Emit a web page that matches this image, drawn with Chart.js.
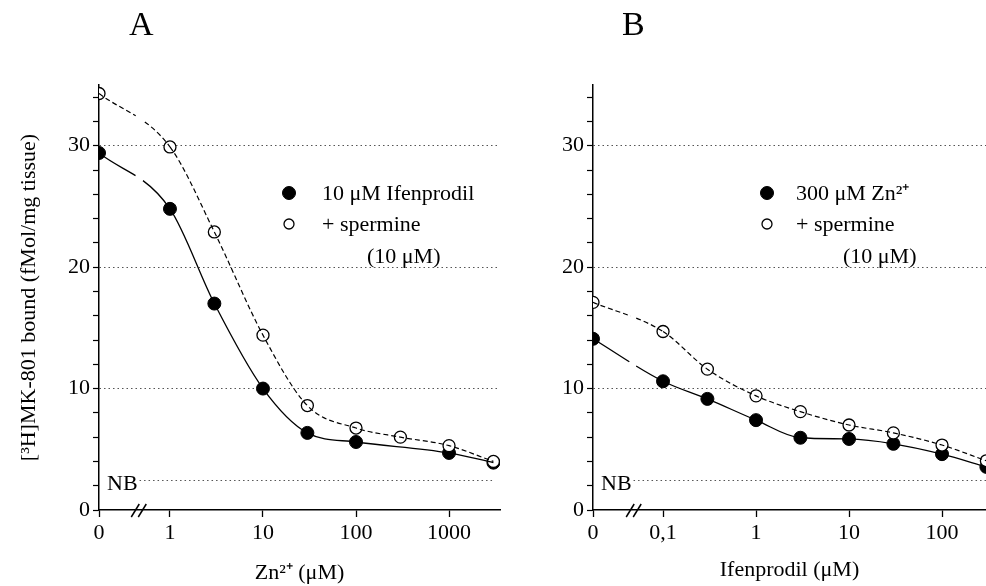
<!DOCTYPE html>
<html lang="en">
  <head>
    <meta charset="utf-8" />
    <title>[3H]MK-801 binding vs Zn2+ and ifenprodil</title>
    <style>
      * {
        margin: 0;
        padding: 0;
      }
      body {
        background: #fff;
        width: 986px;
        height: 586px;
        overflow: hidden;
        position: relative;
        font-family: "Liberation Serif", serif;
      }
      canvas {
        position: absolute;
        top: 0;
      }
      #chartA {
        left: 0;
      }
      #chartB {
        left: 510px;
      }
      .letter {
        position: absolute;
        top: 4px;
        font-size: 34px;
        line-height: 40px;
        color: #000;
      }
    </style>
  </head>
  <body>
    <canvas id="chartA" width="510" height="586"></canvas>
    <canvas id="chartB" width="476" height="586"></canvas>
    <div class="letter" style="left: 129px">A</div>
    <div class="letter" style="left: 622px">B</div>

    <script src="https://cdn.jsdelivr.net/npm/chart.js"></script>

    <script>
      // panel A : Zn2+ concentration (µM)
      const znConc = [0, 1, 3, 10, 30, 100, 300, 1000, 3000];
      const znIfenprodil = [29.4, 24.8, 17.0, 10.0, 6.35, 5.6, null, 4.7, 3.9];
      const znSpermine = [34.3, 29.9, 22.9, 14.4, 8.6, 6.75, 6.0, 5.3, 4.0];
      const znTicks = [0, 1, 10, 100, 1000];
      const znTickLabels = ["0", "1", "10", "100", "1000"];

      // panel B : ifenprodil concentration (µM)
      const ifenConc = [0, 0.1, 0.3, 1, 3, 10, 30, 100, 300];
      const ifenZn = [14.1, 10.6, 9.15, 7.4, 5.95, 5.85, 5.45, 4.6, 3.55];
      const ifenSpermine = [17.1, 14.7, 11.6, 9.4, 8.1, 7.0, 6.35, 5.35, 4.05];
      const ifenTicks = [0, 0.1, 1, 10, 100];
      const ifenTickLabels = ["0", "0,1", "1", "10", "100"];

      // shared y axis
      const yTicks = [0, 2, 4, 6, 8, 10, 12, 14, 16, 18, 20, 22, 24, 26, 28, 30, 32, 34];
      const nbLevel = 2.5; // non specific binding

      const font = { family: "'Liberation Serif', 'Times New Roman', serif", size: 22 };
      const fontStr = "22px 'Liberation Serif', 'Times New Roman', serif";

      // "0" sits a fixed distance left of the first decade (axis break)
      function toPos(c, zeroPos) {
        return c === 0 ? zeroPos : Math.log10(c);
      }
      function points(conc, values, zeroPos) {
        return conc.map((c, i) => ({ x: toPos(c, zeroPos), y: values[i] }));
      }

      // dash pattern with a hole in the first segment (fitted curve is interrupted at the break)
      function gapDash(dash, gapStart, gapLen) {
        if (!dash) return [gapStart, gapLen, 2000];
        const out = [];
        let pos = 0;
        while (pos + dash[0] + dash[1] <= gapStart) {
          out.push(dash[0], dash[1]);
          pos += dash[0] + dash[1];
        }
        out.push(Math.max(gapStart - pos, 0.1), gapLen);
        for (let i = 0; i < 30; i++) out.push(dash[0], dash[1]);
        return out;
      }

      // NB line, axis break and legend
      const decor = {
        id: "decor",
        beforeDatasetsDraw(chart, args, opts) {
          const { ctx, chartArea: { left, right }, scales: { y } } = chart;
          const yy = Math.round(y.getPixelForValue(nbLevel)) + 0.5;
          ctx.save();
          ctx.font = fontStr;
          ctx.fillStyle = "#000";
          ctx.textBaseline = "middle";
          ctx.fillText("NB", left + 8, yy + 4);
          const w = ctx.measureText("NB").width;
          ctx.strokeStyle = "#555";
          ctx.lineWidth = 1;
          ctx.setLineDash([1.5, 3]);
          ctx.beginPath();
          ctx.moveTo(left + 10 + w, yy);
          ctx.lineTo(right - opts.nbEnd, yy);
          ctx.stroke();
          ctx.restore();
        },
        afterDraw(chart, args, opts) {
          const { ctx, chartArea: { bottom }, scales: { x } } = chart;
          const bx = x.getPixelForValue(opts.breakAt);
          ctx.save();
          ctx.strokeStyle = "#000";
          ctx.lineWidth = 1.5;
          [-4, 3].forEach((dx) => {
            ctx.beginPath();
            ctx.moveTo(bx + dx - 4, bottom + 7);
            ctx.lineTo(bx + dx + 4, bottom - 6);
            ctx.stroke();
          });

          // legend
          const lg = opts.legend;
          const sets = chart.data.datasets;
          ctx.font = fontStr;
          ctx.textBaseline = "middle";
          ctx.fillStyle = "#000";
          lg.rows.forEach((row, i) => {
            const ds = sets[i];
            ctx.beginPath();
            ctx.arc(lg.x, row, lg.radius[i], 0, Math.PI * 2);
            ctx.fillStyle = ds.pointBackgroundColor;
            ctx.fill();
            ctx.lineWidth = ds.pointBorderWidth || 1;
            ctx.strokeStyle = "#000";
            ctx.stroke();
            ctx.fillStyle = "#000";
            ctx.fillText(ds.label, lg.textX, row + 1);
          });
          ctx.fillText(lg.note, lg.noteX, lg.noteY);
          ctx.restore();
        },
      };

      function makeChart(id, cfg) {
        const zero = cfg.zeroPos;
        return new Chart(document.getElementById(id), {
          type: "line",
          data: {
            datasets: [
              {
                label: cfg.labels[0],
                data: points(cfg.conc, cfg.filled, zero),
                showLine: false,
                pointRadius: 6.5,
                pointBorderWidth: 1,
                pointBackgroundColor: "#000",
                pointBorderColor: "#000",
                order: 4,
              },
              {
                label: cfg.labels[1],
                data: points(cfg.conc, cfg.open, zero),
                showLine: false,
                pointRadius: 6,
                pointBorderWidth: 1.3,
                pointBackgroundColor: "#fff",
                pointBorderColor: "#000",
                order: 3,
              },
              {
                data: points(cfg.conc, cfg.filled, zero),
                pointRadius: 0,
                borderColor: "#000",
                borderWidth: 1.3,
                cubicInterpolationMode: "monotone",
                spanGaps: true,
                segment: {
                  borderDash: (c) => (c.p0DataIndex === 0 ? gapDash(null, cfg.gapFilled[0], cfg.gapFilled[1]) : undefined),
                },
                order: 2,
              },
              {
                data: points(cfg.conc, cfg.open, zero),
                pointRadius: 0,
                borderColor: "#000",
                borderWidth: 1.2,
                borderDash: [5, 3],
                cubicInterpolationMode: "monotone",
                spanGaps: true,
                segment: {
                  borderDash: (c) => (c.p0DataIndex === 0 ? gapDash([5, 3], cfg.gapOpen[0], cfg.gapOpen[1]) : undefined),
                },
                order: 1,
              },
            ],
          },
          options: {
            responsive: false,
            animation: false,
            layout: { autoPadding: false, padding: { top: 85, right: cfg.padRight, left: 0, bottom: 0 } },
            scales: {
              x: {
                type: "linear",
                min: zero,
                max: cfg.xMax,
                afterBuildTicks: (s) => {
                  s.ticks = cfg.ticks.map((c) => ({ value: toPos(c, zero) }));
                },
                afterFit: (s) => {
                  s.height = 76;
                },
                ticks: {
                  callback: (v, i) => cfg.tickLabels[i],
                  autoSkip: false,
                  maxRotation: 0,
                  padding: 3,
                  color: "#000",
                  font,
                },
                grid: { drawOnChartArea: false, tickColor: "#000", tickLength: 7, tickWidth: 1.3 },
                border: { color: "#000", width: 1.5 },
                title: {
                  display: true,
                  text: cfg.xTitle,
                  color: "#000",
                  font,
                  padding: { top: 0, bottom: cfg.xTitlePad },
                },
              },
              y: {
                min: 0,
                max: 35,
                afterBuildTicks: (s) => {
                  s.ticks = yTicks.map((v) => ({ value: v }));
                },
                afterFit: (s) => {
                  s.width = cfg.yWidth;
                },
                ticks: {
                  callback: (v) => (v % 10 === 0 ? String(v) : ""),
                  autoSkip: false,
                  padding: 3,
                  color: "#000",
                  font,
                },
                grid: {
                  color: (c) => (c.tick && c.tick.value > 0 && c.tick.value % 10 === 0 ? "#555" : "rgba(0,0,0,0)"),
                  tickColor: "#000",
                  tickLength: 6,
                  tickWidth: 1.2,
                  lineWidth: 1,
                },
                border: { color: "#000", width: 1.5, dash: [1.5, 3] },
                title: {
                  display: !!cfg.yTitle,
                  text: cfg.yTitle,
                  color: "#000",
                  font,
                  padding: { top: 16, bottom: 0 },
                },
              },
            },
            plugins: {
              legend: { display: false },
              tooltip: { enabled: false },
              decor: { breakAt: cfg.breakAt, nbEnd: cfg.nbEnd, legend: cfg.legend },
            },
          },
          plugins: [decor],
        });
      }

      makeChart("chartA", {
        conc: znConc,
        filled: znIfenprodil,
        open: znSpermine,
        labels: ["10 μM Ifenprodil", "+ spermine"],
        ticks: znTicks,
        tickLabels: znTickLabels,
        zeroPos: -0.763,
        breakAt: -0.33,
        xMax: 3.548,
        padRight: 10,
        yWidth: 99,
        xTitle: "Zn²⁺ (μM)",
        xTitlePad: 0,
        yTitle: "[³H]MK-801 bound (fMol/mg tissue)",
        gapFilled: [43, 9],
        gapOpen: [43, 11],
        nbEnd: 7,
        legend: { x: 289, textX: 322, rows: [193, 224], radius: [6.5, 5], note: "(10 μM)", noteX: 367, noteY: 257 },
      });

      makeChart("chartB", {
        conc: ifenConc,
        filled: ifenZn,
        open: ifenSpermine,
        labels: ["300 μM Zn²⁺", "+ spermine"],
        ticks: ifenTicks,
        tickLabels: ifenTickLabels,
        zeroPos: -1.753,
        breakAt: -1.31,
        xMax: 2.473,
        padRight: 0,
        yWidth: 83,
        xTitle: "Ifenprodil (μM)",
        xTitlePad: 3,
        yTitle: "",
        gapFilled: [43, 8],
        gapOpen: [40, 6],
        nbEnd: 0,
        legend: { x: 257, textX: 286, rows: [193, 224], radius: [6.5, 5], note: "(10 μM)", noteX: 333, noteY: 257 },
      });
    </script>
  </body>
</html>
